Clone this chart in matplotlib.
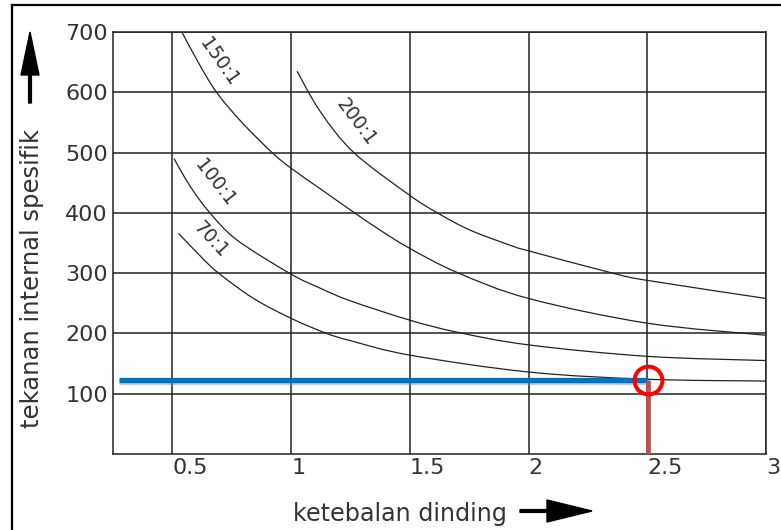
import matplotlib
matplotlib.use("Agg")
import matplotlib.pyplot as plt
from matplotlib.patches import FancyArrow, PathPatch
from matplotlib.path import Path
from matplotlib.lines import Line2D
import matplotlib.patheffects as pe

# wall thickness (x) vs specific internal pressure (y) for each diameter ratio
x_150 = [0.54, 0.607, 0.686, 0.793, 0.92, 1.0, 1.13, 1.26, 1.38, 1.5, 1.70, 2.0, 2.5, 3.0]
y_150 = [700, 651, 600, 550, 500, 474, 438, 402, 370, 341, 301, 258, 217, 197]

x_200 = [1.025, 1.123, 1.264, 1.5, 1.616, 1.756, 1.939, 2.0, 2.354, 2.5, 3.0]
y_200 = [635, 568, 500, 429, 400, 371, 344, 337, 300, 288, 258]

x_100 = [0.507, 0.575, 0.656, 0.772, 0.997, 1.123, 1.25, 1.5, 1.70, 2.0, 2.5, 3.0]
y_100 = [490, 444, 401, 355, 299, 275, 254, 222, 202, 181, 162, 155]

x_70 = [0.526, 0.631, 0.701, 0.842, 1.0, 1.15, 1.25, 1.5, 2.0, 2.5, 3.0]
y_70 = [366, 323, 298, 258, 225, 200, 188, 164, 136, 124, 121]

curve_names = ["150:1", "200:1", "100:1", "70:1"]

x_ticks = [0.5, 1, 1.5, 2, 2.5, 3]
x_tick_labels = ["0.5", "1", "1.5", "2", "2.5", "3"]
y_ticks = [100, 200, 300, 400, 500, 600, 700]
y_tick_labels = ["100", "200", "300", "400", "500", "600", "700"]

# reading example: given pressure, find wall thickness
read_start_x = 0.277
read_pressure = 123
read_thickness = 2.505

W, H = 781, 530
fig = plt.figure(figsize=(W / 100, H / 100), dpi=100)
plt.rcParams["font.family"] = ["DejaVu Sans"]
text_color = "#333333"
line_color = "#222222"

ax = fig.add_axes([113 / W, (H - 454) / H, (766 - 113) / W, (454 - 32) / H])
ax.set_xlim(0.25, 3.0)
ax.set_ylim(0, 700)

for sp in ax.spines.values():
    sp.set_color(line_color)
    sp.set_linewidth(1.1)

ax.set_xticks(x_ticks)
ax.set_xticklabels(x_tick_labels)
ax.set_yticks(y_ticks)
ax.set_yticklabels(y_tick_labels)
ax.tick_params(axis="both", length=0, labelsize=16, labelcolor=text_color)
ax.tick_params(axis="x", pad=3)
ax.tick_params(axis="y", pad=3.6)
for lbl in ax.get_xticklabels():
    lbl.set_horizontalalignment("left")

ax.grid(True, color=line_color, linewidth=1.1)
ax.set_axisbelow(True)


def smooth_path(xs, ys):
    """Catmull-Rom spline through the points, expressed as cubic Bezier segments."""
    pts = list(zip(xs, ys))
    n = len(pts)
    verts = [pts[0]]
    codes = [Path.MOVETO]
    for i in range(n - 1):
        p0 = pts[i - 1] if i > 0 else pts[i]
        p1 = pts[i]
        p2 = pts[i + 1]
        p3 = pts[i + 2] if i + 2 < n else pts[i + 1]
        c1 = (p1[0] + (p2[0] - p0[0]) / 6, p1[1] + (p2[1] - p0[1]) / 6)
        c2 = (p2[0] - (p3[0] - p1[0]) / 6, p2[1] - (p3[1] - p1[1]) / 6)
        verts += [c1, c2, p2]
        codes += [Path.CURVE4] * 3
    return Path(verts, codes)


curves = [(x_150, y_150), (x_200, y_200), (x_100, y_100), (x_70, y_70)]
for xs, ys in curves:
    ax.add_patch(PathPatch(smooth_path(xs, ys), facecolor="none",
                           edgecolor=line_color, linewidth=0.9, zorder=3))

# curve labels along the lines
label_pos = [(0.697, 650, -55), (1.275, 551, -53), (0.680, 449, -52), (0.663, 355, -47)]
for name, (lx, ly, rot) in zip(curve_names, label_pos):
    ax.text(lx, ly, name, rotation=rot, rotation_mode="anchor",
            ha="center", va="center", fontsize=13.5, color=text_color, zorder=4)

shadow = [pe.SimpleLineShadow(offset=(0, -1.5), shadow_color="#888888", alpha=0.45),
          pe.Normal()]

# horizontal reading line (blue)
ax.plot([read_start_x, read_thickness], [read_pressure, read_pressure],
        color="#0070c0", linewidth=3.8, solid_capstyle="butt", zorder=5,
        path_effects=shadow)
# vertical reading line (red)
ax.plot([read_thickness, read_thickness], [read_pressure, 0],
        color="#c0504d", linewidth=3.4, solid_capstyle="butt", zorder=5)
# marked intersection
ax.plot([read_thickness], [read_pressure], marker="o", markersize=20,
        markerfacecolor="none", markeredgecolor="#ff0000", markeredgewidth=2.9,
        zorder=6, clip_on=False)

# axis titles with arrows
fig.text(32 / W, (H - 278) / H, "tekanan internal spesifik", rotation=90,
         ha="center", va="center", fontsize=17.5, color=text_color)
fig.text(293 / W, (H - 511) / H, "ketebalan dinding", ha="left",
         va="center_baseline", fontsize=17.2, color=text_color)

inch = fig.dpi_scale_trans
fig.add_artist(FancyArrow(0.30, (H - 103) / 100, 0, 0.71, width=0.028,
                          head_width=0.18, head_length=0.43,
                          length_includes_head=True, color="black",
                          transform=inch))
fig.add_artist(FancyArrow(5.20, (H - 511) / 100, 0.72, 0, width=0.028,
                          head_width=0.22, head_length=0.45,
                          length_includes_head=True, color="black",
                          transform=inch))

# outer drawing frame
fig.add_artist(Line2D([12 / W, 12 / W], [0, (H - 5) / H], color="black",
                      linewidth=1.6, transform=fig.transFigure))
fig.add_artist(Line2D([12 / W, 1], [(H - 5) / H, (H - 5) / H], color="black",
                      linewidth=1.6, transform=fig.transFigure))

fig.savefig("out.png", dpi=100)
